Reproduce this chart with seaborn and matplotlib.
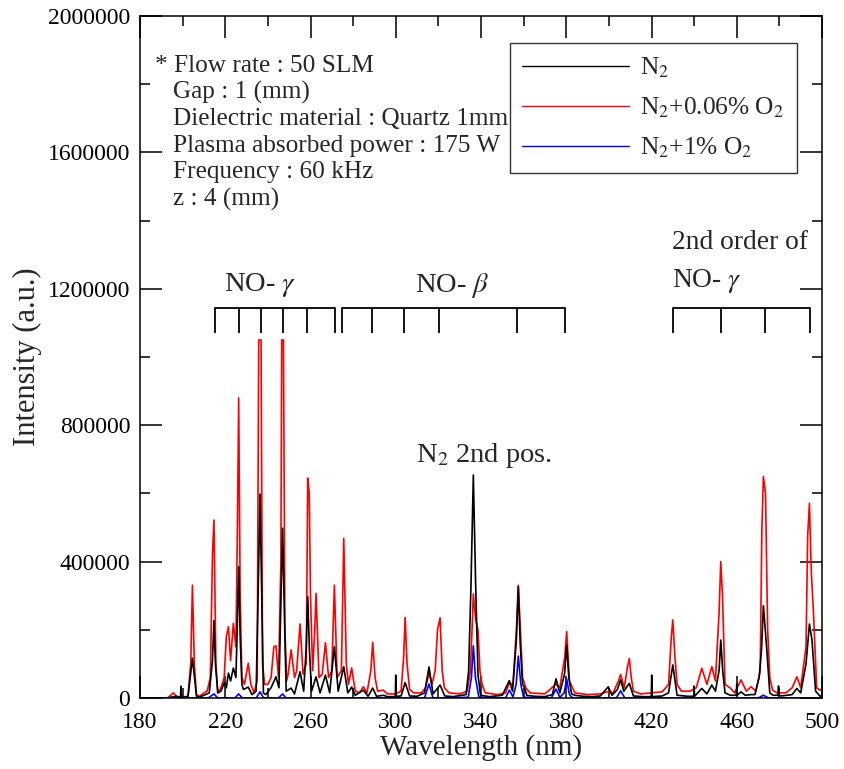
import numpy as np
import pandas as pd
import matplotlib
matplotlib.use("Agg")
import matplotlib.pyplot as plt
import seaborn as sns
from matplotlib.ticker import FixedLocator, FuncFormatter, MultipleLocator

# ---------------- data (wavelength nm, intensity in thousands a.u.) ----------------
n2_points = [(180,0),(193,0),(195,3),(197,5),(199.0,2),(199.2,35),(199.4,2),(202.5,3),(204.6,117),(206.5,5),
    (208,3),(210,8),(212.5,15),(214.0,110),(214.7,227),(215.4,100),(216.5,15),(218,20),(219.5,45),(220.5,30),
    (221.5,73),(222.5,50),(223.8,88),(225,60),(225.6,200),(226.3,385),(227.0,180),(227.8,40),(228.5,25),(230.8,32),
    (232.5,10),(234.5,20),(235.4,300),(236.3,598),(237.2,280),(237.9,15),(239,10),(241.5,30),(243.8,62),(245.2,30),
    (246.0,250),(246.9,498),(247.8,230),(248.6,20),(250.9,29),(252.5,12),(255.1,77),(256.8,20),(258.0,150),
    (258.7,297),(259.5,140),(260.5,20),(262.6,62),(264.5,15),(267,67),(269,15),(271.2,150),(273,20),(275.6,92),
    (277.5,15),(279.3,32),(281,8),(284.8,23),(287,5),(289.2,29),(291,5),(294.2,8),(296,4),(299.8,4),(300,67),
    (300.2,5),(302.5,6),(304.4,45),(306.5,6),(310,5),(313.5,15),(315.6,91),(317.5,12),(320.8,38),(323,6),(327,4),
    (333,10),(334.2,80),(335.3,330),(336.4,654),(337.5,330),(338.6,67),(339.8,8),(344,4),(350,8),(353.3,51),
    (354.8,20),(356.6,170),(357.5,326),(358.4,160),(359.5,40),(360.3,32),(361.5,8),(365,5),(370,4),(373.5,10),
    (375.2,56),(377,15),(379.2,70),(380.2,155),(381.2,60),(382.5,12),(384,8),(388,5),(392,4),(396,6),(399.7,33),
    (401.5,8),(404,25),(405.5,53),(407,20),(409.6,43),(411.5,6),(416,4),(419.9,4),(420.1,67),(420.3,4),(425,6),
    (428,15),(430,97),(432,8),(437,5),(439.8,5),(440,35),(440.2,5),(443.6,28),(446,12),(448.3,38),(450,20),
    (451.7,80),(452.5,170),(453.4,80),(454.5,15),(457,8),(459.8,8),(460,41),(460.2,8),(462,18),(464,8),(466.7,10),
    (468.5,10),(470.5,60),(471.6,140),(472.5,271),(474,150),(475.5,15),(477,8),(479.4,8),(479.6,35),(479.8,8),
    (481,6),(486,10),(488.2,28),(490,15),(492.5,100),(494.1,217),(495.3,170),(497,20),(499.1,5),(500,8)]

n2_o2_006_points = [(180,0),(193,0),(195.6,15),(197.5,3),(200,3),(202.5,5),(203.8,100),(204.6,331),(205.5,100),
    (206.5,10),(208,5),(210,15),(211.5,20),(213,60),(214,419),(214.7,522),(215.6,100),(216.5,15),(218,30),(219.5,60),
    (220.5,180),(221.5,209),(222.5,110),(223.8,219),(225,150),(225.7,500),(226.3,880),(227,300),(227.8,60),(229,40),
    (230.8,102),(232,40),(233.5,15),(235,50),(235.7,1050),(236.8,1050),(237.5,100),(238.5,40),(240,40),(241.5,60),
    (242.8,150),(243.8,153),(245,60),(246.1,400),(246.5,1050),(247.3,1050),(248,200),(248.8,50),(249.5,70),
    (250.9,141),(252.5,60),(253.5,80),(255.1,217),(256.5,70),(258,100),(258.7,645),(259.4,600),(260,300),(261,80),
    (262,200),(262.6,307),(264,60),(265.5,70),(267,162),(268.5,60),(270,80),(271.2,331),(272.5,60),(274.5,80),
    (275.6,468),(276.8,100),(277.8,40),(279.3,88),(281,20),(283,15),(284.8,33),(286.5,15),(288.3,80),(289.2,163),
    (290.3,60),(291.5,20),(294.2,23),(296,12),(300,12),(302.5,20),(303.7,120),(304.4,236),(305.3,100),(306.5,25),
    (308.5,15),(312,15),(314,30),(315.6,73),(317,40),(318.5,80),(319.6,200),(320.8,235),(321.8,80),(322.8,30),
    (325,15),(330,12),(333.5,20),(335,80),(335.8,200),(336.4,305),(337.5,230),(338.6,199),(339.5,80),(340.5,40),
    (342,15),(348,10),(351.5,15),(353.3,44),(355,40),(356.6,200),(357.5,331),(358.5,200),(359.5,60),(361,30),
    (363,15),(370,12),(375.2,41),(377,30),(379.3,120),(380.2,195),(381.5,50),(384,15),(390,10),(396,12),(399.7,19),
    (402,15),(404.5,50),(405.5,69),(407.2,30),(408.7,90),(409.6,116),(410.5,60),(411.5,20),(415,12),(420,15),
    (425,18),(428,40),(429.3,180),(430,229),(431,120),(432,40),(434,20),(438,20),(441,30),(443.6,87),(446,40),
    (448.3,92),(450,50),(451.7,250),(452.5,400),(453.3,300),(454.5,40),(457,29),(459,15),(462,53),(464.5,20),
    (466.7,33),(469,20),(471,80),(471.8,500),(472.5,649),(473.5,600),(474.5,200),(475.5,60),(476.8,23),(479,15),
    (483,15),(486,30),(488.2,62),(490,30),(492.5,150),(493.3,478),(494.1,571),(495,367),(496,250),(497.5,30),
    (499.1,23),(500,25)]

n2_o2_1_points = [(180,0),(195,0),(212,0),(214.7,12),(216.5,0),(224.5,0),(226.3,12),(228,0),(234.5,0),(236.3,18),
    (238,0),(245,0),(246.9,12),(248.5,0),(313.5,0),(315.6,41),(317.5,0),(334,2),(335.5,60),(336.4,153),(337.4,60),
    (339,2),(351.5,0),(353.3,23),(355,3),(356.5,40),(357.5,123),(358.7,40),(360,2),(373,0),(375.2,26),(377,2),
    (379,15),(380.2,56),(381.5,10),(383,0),(403.5,0),(405.5,21),(407.5,0),(470,0),(472.5,8),(475,0),(500,0)]

series_labels = ["N$_2$", "N$_2$+0.06% O$_2$", "N$_2$+1% O$_2$"]
series_colors = ["black", "#ff0000", "#0000ff"]

x_major_ticks = [180, 220, 260, 300, 340, 380, 420, 460, 500]
x_minor_ticks = [200, 240, 280, 320, 360, 400, 440, 480]

no_gamma_ticks = [215.2, 226.5, 236.6, 246.9, 258.2, 271.5]
no_beta_ticks = [274.9, 289.0, 303.9, 320.3, 357.1, 379.5]
no_gamma2_ticks = [430.3, 452.7, 473.3, 494.4]

conditions = ["* Flow rate : 50 SLM", "Gap : 1 (mm)", "Dielectric material : Quartz 1mm",
              "Plasma absorbed power : 175 W", "Frequency : 60 kHz", "z : 4 (mm)"]

# ---------------- build frames ----------------
def to_frame(points, label):
    wl, inten = zip(*points)
    return pd.DataFrame({"wavelength": wl, "intensity": np.array(inten) * 1000.0, "series": label})

frames = [to_frame(p, l) for p, l in zip([n2_points, n2_o2_006_points, n2_o2_1_points], series_labels)]

sns.set_style("ticks")
plt.rcParams['font.family'] = ['Liberation Serif', 'DejaVu Serif']
plt.rcParams['mathtext.fontset'] = 'stix'

fig = plt.figure(figsize=(8.44, 7.69), dpi=100)
ax = fig.add_axes([140/844, 71/769, 682/844, 682/769])

for idx in [1, 0, 2]:
    sns.lineplot(data=frames[idx], x="wavelength", y="intensity", ax=ax, color=series_colors[idx],
                 linewidth=1.2, estimator=None, sort=False, label=series_labels[idx])
hmap = {l.get_label(): l for l in ax.get_lines()}
leg = ax.legend([hmap[s] for s in series_labels], series_labels, loc="upper right",
                bbox_to_anchor=(0.963, 0.960), borderaxespad=0, fontsize=18.3, frameon=True,
                fancybox=False, edgecolor="black", handlelength=4.2, handletextpad=0.43,
                labelspacing=0.62, borderpad=0.5)
leg.get_frame().set_linewidth(1.0)
for lh in leg.get_lines():
    lh.set_linewidth(1.0)

ax.set_xlim(180, 500)
ax.set_ylim(0, 2000000)
ax.xaxis.set_major_locator(FixedLocator(x_major_ticks))
ax.xaxis.set_minor_locator(FixedLocator(x_minor_ticks))
ax.yaxis.set_major_locator(MultipleLocator(400000))
ax.yaxis.set_minor_locator(MultipleLocator(200000))
ax.yaxis.set_major_formatter(FuncFormatter(lambda v, p: f"{v:.0f}"))
ax.tick_params(which="both", direction="in", top=True, right=True, width=1.1, colors="black")
ax.tick_params(which="major", length=16, labelsize=17)
ax.tick_params(axis="x", which="major", pad=10)
ax.tick_params(axis="y", which="major", pad=7)
ax.tick_params(which="minor", length=7.5)
for s in ax.spines.values():
    s.set_linewidth(1.1)
    s.set_color("black")

ax.set_xlabel("Wavelength (nm)", fontsize=21, labelpad=1)
ax.set_ylabel("Intensity (a.u.)", fontsize=22, labelpad=4)

# brackets
top_y, bot_y = 1142800, 1071300
for ticks in [no_gamma_ticks, no_beta_ticks, no_gamma2_ticks]:
    ax.plot([ticks[0], ticks[-1]], [top_y, top_y], color="black", lw=1.3)
    ax.vlines(ticks, bot_y, top_y, color="black", lw=1.3)

ax.text(236.2, 1210000, r"NO- $\gamma$", fontsize=20.5, ha="center", va="center")
ax.text(326.3, 1210000, r"NO- $\beta$", fontsize=20.5, ha="center", va="center")
ax.text(429.4, 1335000, "2nd order of", fontsize=19.8, ha="left", va="center")
ax.text(429.4, 1222000, r"NO- $\gamma$", fontsize=19.8, ha="left", va="center")
ax.text(309.5, 712000, r"N$_2$ 2nd pos.", fontsize=20.5, ha="left", va="center")

for i, line in enumerate(conditions):
    x = (155 - 140) / 682 if i == 0 else (173 - 140) / 682
    y = (698 - (66 + 26.6 * i)) / 682
    ax.text(x, y, line, transform=ax.transAxes, fontsize=18.2, ha="left", va="center")

fig.savefig("out.png", dpi=100)
